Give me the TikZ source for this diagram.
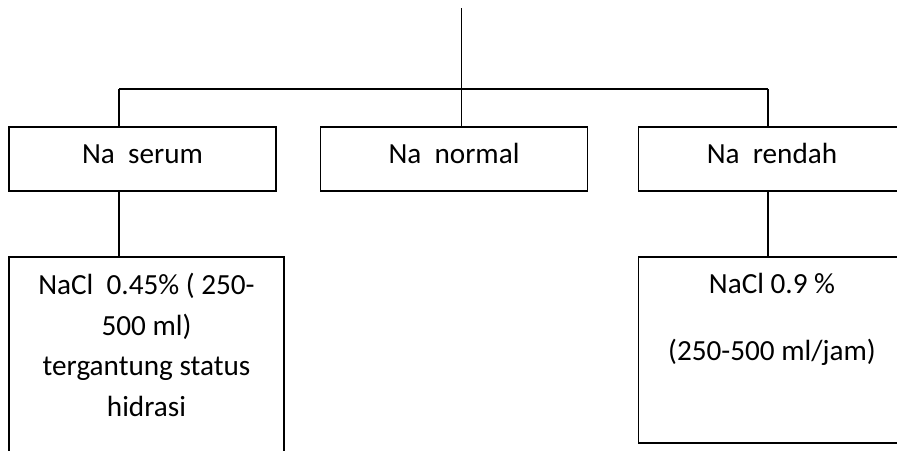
\documentclass[tikz,border=0pt]{standalone}
\usepackage{fontspec}
\setmainfont{Carlito}
\begin{document}
\begin{tikzpicture}[x=1pt,y=-1pt,
  box/.style={draw=black,line width=1.3pt,rectangle,inner sep=0pt,minimum width=267pt},
  link/.style={draw=black,line width=1.1pt},
  txt/.style={anchor=base,inner sep=0pt,font=\fontsize{29.2}{40}\selectfont}]
\useasboundingbox (0,0) rectangle (897,450);
\clip (0,0) rectangle (897,450);

% top row
\node[box,minimum height=64pt] (b1) at (142.5,159) {};
\node[box,minimum height=64pt] (b2) at (454,159) {};
\node[box,minimum height=64pt] (b3) at (772,159) {};
\node[txt] (t1) at (142.5,163) {Na\ \ serum};
\node[txt] (t2) at (454,163) {Na\ \ normal};
\node[txt] (t3) at (772,163) {Na\ \ rendah};

% lower row
\node[box,minimum width=275pt,minimum height=220pt] (b4) at (146.5,367) {};
\node[box,minimum height=186pt] (b5) at (772,350) {};
\node[txt] (t4a) at (146.5,294) {NaCl\ \ 0.45\% ( 250-};
\node[txt] (t4b) at (146.5,335) {500 ml)};
\node[txt] (t4c) at (146.5,375) {tergantung status};
\node[txt] (t4d) at (146.5,416) {hidrasi};
\node[txt] (t5a) at (772,293) {NaCl 0.9 \%};
\node[txt] (t5b) at (772,360) {(250-500 ml/jam)};

% connectors
\coordinate (top) at (461,8);
\coordinate (busL) at (119,89);
\coordinate (busR) at (768,89);
\draw[line width=0.9pt] (top) -- (b2.north -| top);
\draw[link] (busL) -- (busR);
\draw[link] (busL) -- (b1.north -| busL);
\draw[link] (busR) -- (b3.north -| busR);
\draw[link] (b1.south -| busL) -- (b4.north -| busL);
\draw[link] (b3.south -| busR) -- (b5.north -| busR);
\end{tikzpicture}
\end{document}
